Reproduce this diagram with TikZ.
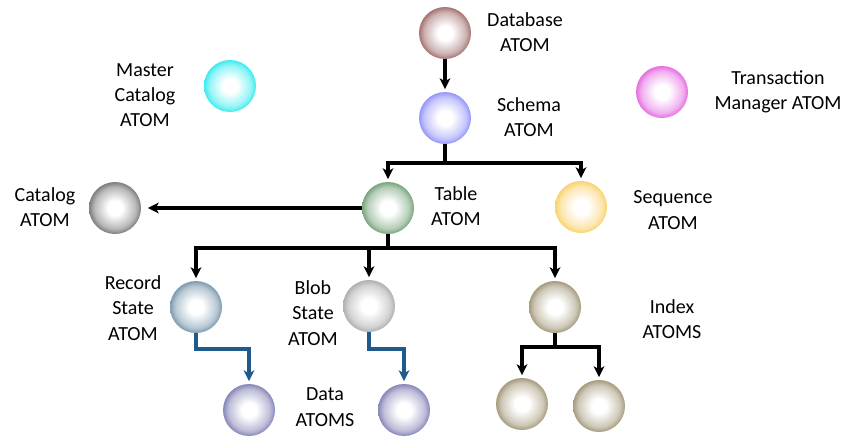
\documentclass[tikz,border=0pt]{standalone}
\usepackage{fontspec}
\setmainfont{Carlito}
\usetikzlibrary{arrows.meta}
\definecolor{cdb}{RGB}{165,115,115}
\definecolor{csch}{RGB}{150,150,250}
\definecolor{cmas}{RGB}{60,235,240}
\definecolor{ctra}{RGB}{230,110,225}
\definecolor{ctab}{RGB}{120,165,125}
\definecolor{cseq}{RGB}{250,210,110}
\definecolor{ccat}{RGB}{125,125,125}
\definecolor{crec}{RGB}{125,155,175}
\definecolor{cblob}{RGB}{175,175,175}
\definecolor{cidx}{RGB}{165,155,125}
\definecolor{cdata}{RGB}{135,135,185}
\definecolor{cblue}{RGB}{31,90,140}
\colorlet{atomc}{gray}
\colorlet{atomm}{gray}
\pgfdeclareradialshading[atomc,atomm]{atomshade}{\pgfpoint{0bp}{0bp}}{color(0bp)=(white); color(7bp)=(white); color(20bp)=(atomm); color(25bp)=(atomc); color(50bp)=(atomc)}
\tikzset{
  atom/.style={circle, minimum size=39pt, inner sep=0pt, /utils/exec={\colorlet{atomc}{#1}\colorlet{atomm}{#1!55!white}}, shading=atomshade},
  lbl/.style={align=center, inner sep=0pt, font=\fontsize{15pt}{19pt}\selectfont},
  conn/.style={line width=2.6pt, -{Stealth[length=8pt,width=8pt,inset=2pt]}, shorten >=2pt},
  bconn/.style={line width=2.4pt, draw=cblue, -{Stealth[length=8pt,width=8pt,inset=2pt]}, shorten >=2pt},
}
\begin{document}
\begin{tikzpicture}[x=0.75pt,y=-0.75pt]
\useasboundingbox (0,0) rectangle (859,446);
% atoms
\node[atom=cdb] (db) at (445,33) {};
\node[atom=csch] (sch) at (445,118) {};
\node[atom=cmas] (mas) at (230,86) {};
\node[atom=ctra] (tra) at (662,92) {};
\node[atom=ctab] (tab) at (388,208) {};
\node[atom=cseq] (seq) at (581,207) {};
\node[atom=ccat] (cat) at (115,208) {};
\node[atom=crec] (rec) at (196,307) {};
\node[atom=cblob] (blob) at (369,306) {};
\node[atom=cidx] (idx) at (555,307) {};
\node[atom=cdata] (d1) at (249,410) {};
\node[atom=cdata] (d2) at (404,410) {};
\node[atom=cidx] (i1) at (522,404) {};
\node[atom=cidx] (i2) at (599,406) {};
% labels
\node[lbl] (tdb) at (525,32) {Database\\ATOM};
\node[lbl] (tsch) at (529,117) {Schema\\ATOM};
\node[lbl] (tmas) at (145,95) {Master\\Catalog\\ATOM};
\node[lbl] (ttra) at (778,92) {Transaction\\Manager ATOM};
\node[lbl] (tcat) at (45,207) {Catalog\\ATOM};
\node[lbl] (ttab) at (456,206) {Table\\ATOM};
\node[lbl] (tseq) at (673,210) {Sequence\\ATOM};
\node[lbl] (trec) at (133,308) {Record\\State\\ATOM};
\node[lbl] (tblob) at (313,313) {Blob\\State\\ATOM};
\node[lbl] (tidx) at (672,319) {Index\\ATOMS};
\node[lbl] (tdata) at (325,407) {Data\\ATOMS};
% junctions
\coordinate (j1) at (445,163);
\coordinate (j2) at (388,248);
\coordinate (jr) at (196,349);
\coordinate (jb) at (369,349);
\coordinate (ji) at (555,347);
% connectors
\draw[conn] (db.south) -- (sch.north);
\draw[line width=2.6pt] (sch.south) -- (j1);
\draw[conn] (j1) -| (tab.north);
\draw[conn] (j1) -| (seq.north);
\draw[conn, shorten >=5pt] (tab.west) -- (cat.east);
\draw[line width=2.6pt] (tab.south) -- (j2);
\draw[conn] (j2) -| (rec.north);
\draw[conn] (j2) -| (blob.north);
\draw[conn] (j2) -| (idx.north);
\draw[line width=2.6pt] (idx.south) -- (ji);
\draw[conn] (ji) -| (i1.north);
\draw[conn] (ji) -| (i2.north);
\draw[bconn] (rec.south) -- (jr) -| (d1.north);
\draw[bconn] (blob.south) -- (jb) -| (d2.north);
\end{tikzpicture}
\end{document}
